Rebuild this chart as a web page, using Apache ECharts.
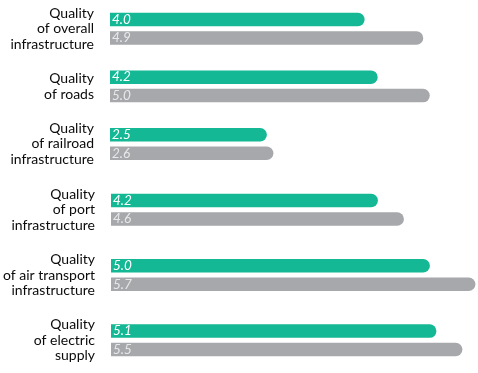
<!DOCTYPE html>
<html><head><meta charset="utf-8">
<script src="https://cdn.jsdelivr.net/npm/echarts@6/dist/echarts.min.js"></script>
<style>html,body{margin:0;padding:0;background:#fff}#c{width:478px;height:373px}</style>
</head><body><div id="c"></div>
<script>
var categoriesTop = ['Quality\nof overall\ninfrastructure', 'Quality\nof roads', 'Quality\nof railroad\ninfrastructure'];
var categoriesBottom = ['Quality\nof port\ninfrastructure', 'Quality\nof air transport\ninfrastructure', 'Quality\nof electric\nsupply'];
var greenTop = [4.0, 4.2, 2.5];
var grayTop = [4.9, 5.0, 2.6];
var greenBottom = [4.2, 5.0, 5.1];
var grayBottom = [4.6, 5.7, 5.5];

var GREEN = '#14b894', GRAY = '#a7a8ab';
var chart = echarts.init(document.getElementById('c'));
function xAx(i) {
  return { type: 'value', gridIndex: i, min: 0.092, max: 5.74, show: false };
}
function yAx(i, cats) {
  return {
    type: 'category', gridIndex: i, data: cats, inverse: true,
    axisLine: { show: false }, axisTick: { show: false }, splitLine: { show: false },
    axisLabel: { margin: 16, align: 'right', fontFamily: 'Lato', fontSize: 14, lineHeight: 15.5, color: '#0a0a0a' }
  };
}
function bar(i, data, color, labelColor) {
  return {
    type: 'bar', xAxisIndex: i, yAxisIndex: i, data: data, clip: true,
    barWidth: 13.5, barGap: '37%',
    itemStyle: { color: color, borderRadius: [0, 7, 7, 0] },
    label: { show: true, position: 'insideLeft', distance: 2, formatter: function (p) { return p.value.toFixed(1); },
      fontFamily: 'Lato', fontStyle: 'italic', fontSize: 13.5, color: labelColor },
    silent: true, animation: false
  };
}
chart.setOption({
  animation: false,
  grid: [
    { left: 110, right: 0, top: -5.45, height: 178.2 },
    { left: 110, right: 0, top: 177.1, height: 203.25 }
  ],
  xAxis: [xAx(0), xAx(1)],
  yAxis: [yAx(0, categoriesTop), yAx(1, categoriesBottom)],
  series: [
    bar(0, greenTop, GREEN, '#ffffff'), bar(0, grayTop, GRAY, '#e8e8e8'),
    bar(1, greenBottom, GREEN, '#ffffff'), bar(1, grayBottom, GRAY, '#e8e8e8')
  ]
});
</script></body></html>
